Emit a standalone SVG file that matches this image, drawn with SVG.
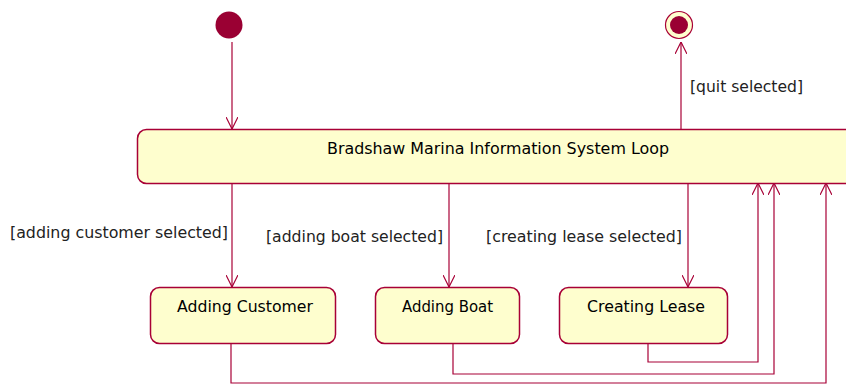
<svg xmlns="http://www.w3.org/2000/svg" width="846" height="385" viewBox="0 0 846 385">
<style>
.st{fill:#FEFECE;stroke:#A80036;stroke-width:1.5}
.ln{fill:none;stroke:#A80036;stroke-width:1.2}
.t{font-family:"DejaVu Sans",Verdana,sans-serif;font-size:16px;fill:#000}
.lb{font-family:"DejaVu Sans",Verdana,sans-serif;font-size:16px;fill:#222}
</style>
<defs>
<marker id="ar" markerUnits="userSpaceOnUse" viewBox="0 0 12 12" refX="12" refY="6" markerWidth="12" markerHeight="12" orient="auto">
<path d="M0,0 L12,6 L0,12" fill="none" stroke="#A80036" stroke-width="1.2"/>
</marker>
</defs>
<rect width="846" height="385" fill="#fff"/>
<g id="start"><circle cx="229" cy="25" r="13.5" fill="#9A0033"/></g>
<g id="end"><circle cx="679" cy="25" r="13.5" fill="#FEFECE" stroke="#A80036" stroke-width="1.2"/><circle cx="679" cy="25" r="9" fill="#9A0033"/></g>
<g id="loop"><rect class="st" x="137.5" y="129.5" width="720" height="54" rx="9"/><text class="t" x="498" y="154" text-anchor="middle" textLength="342" lengthAdjust="spacingAndGlyphs">Bradshaw Marina Information System Loop</text></g>
<g id="customer"><rect class="st" x="150.5" y="287.5" width="185" height="56" rx="9"/><text class="t" x="245" y="312" text-anchor="middle" textLength="136" lengthAdjust="spacingAndGlyphs">Adding Customer</text></g>
<g id="boat"><rect class="st" x="375.5" y="287.5" width="144" height="56" rx="9"/><text class="t" x="447.5" y="312" text-anchor="middle" textLength="91" lengthAdjust="spacingAndGlyphs">Adding Boat</text></g>
<g id="lease"><rect class="st" x="559.5" y="287.5" width="168" height="56" rx="9"/><text class="t" x="646" y="312" text-anchor="middle" textLength="118" lengthAdjust="spacingAndGlyphs">Creating Lease</text></g>
<g id="connectors">
<path class="ln" d="M232,42 V129" marker-end="url(#ar)"/>
<path class="ln" d="M681,129 V42" marker-end="url(#ar)"/>
<path class="ln" d="M232,183 V287" marker-end="url(#ar)"/>
<path class="ln" d="M449,183 V287" marker-end="url(#ar)"/>
<path class="ln" d="M688,183 V287" marker-end="url(#ar)"/>
<path class="ln" d="M648,343 V362 H758 V183" marker-end="url(#ar)"/>
<path class="ln" d="M453,343 V374 H774 V183" marker-end="url(#ar)"/>
<path class="ln" d="M231,343 V383 H826 V183" marker-end="url(#ar)"/>
<text class="lb" x="690" y="92" textLength="113" lengthAdjust="spacingAndGlyphs">[quit selected]</text>
<text class="lb" x="10" y="238" textLength="218" lengthAdjust="spacingAndGlyphs">[adding customer selected]</text>
<text class="lb" x="266" y="242" textLength="177" lengthAdjust="spacingAndGlyphs">[adding boat selected]</text>
<text class="lb" x="486" y="242" textLength="196" lengthAdjust="spacingAndGlyphs">[creating lease selected]</text>
</g>
</svg>
